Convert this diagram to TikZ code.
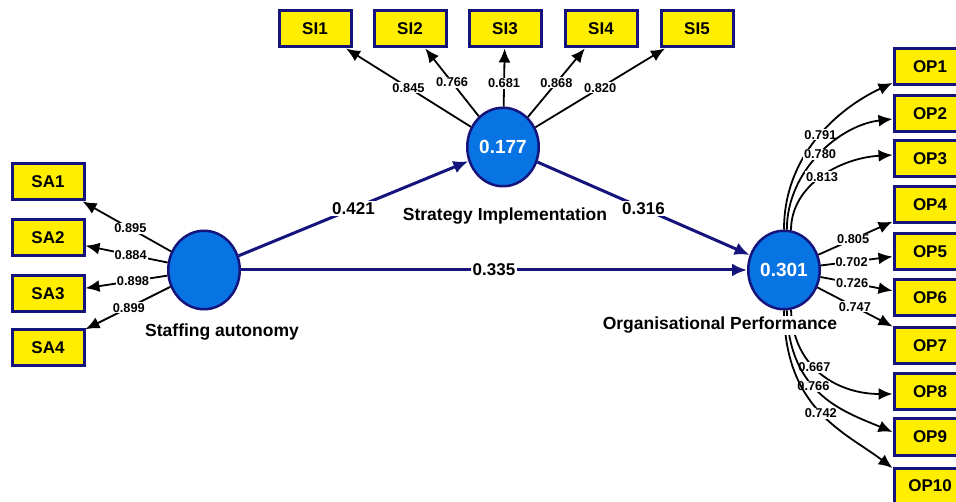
\documentclass[tikz,border=0pt]{standalone}
\usepackage{fontspec}
\setmainfont{Liberation Sans}
\usetikzlibrary{shapes.geometric,arrows.meta}

\definecolor{boxyellow}{RGB}{255,238,0}
\definecolor{navy}{RGB}{20,20,124}
\definecolor{lvblue}{RGB}{8,116,228}

\begin{document}
\begin{tikzpicture}[x=1pt,y=1pt,
  indicator/.style={rectangle, draw=navy, line width=3pt, fill=boxyellow,
    minimum width=72pt, minimum height=36pt, inner sep=0pt,
    font=\fontsize{17}{17}\selectfont\bfseries},
  latent/.style={ellipse, draw=navy, line width=2.5pt, fill=lvblue,
    minimum width=71.5pt, minimum height=78.5pt, inner sep=0pt, text=white,
    font=\fontsize{19}{19}\selectfont\bfseries},
  lvname/.style={anchor=base, inner sep=1pt, font=\fontsize{17.5}{17.5}\selectfont\bfseries},
  pathline/.style={draw=navy, line width=3pt, -{Latex[length=15pt,width=13pt]}},
  loadline/.style={draw=black, line width=1.8pt, -{Latex[length=14pt,width=12pt]}},
  coef/.style={fill=white, inner sep=1.5pt, font=\fontsize{17}{17}\selectfont\bfseries},
  load/.style={fill=white, inner sep=1pt, font=\fontsize{12.8}{12.8}\selectfont\bfseries},
]
\path[use as bounding box] (0,0) rectangle (956,-502);
\clip (0,0) rectangle (956,-502);

% latent variables
\node[latent] (sa) at (204,-270) {};
\node[latent] (si) at (503,-147) {0.177};
\node[latent] (op) at (784,-270) {0.301};

% indicators of Strategy Implementation
\node[indicator] (si1) at (315,-29) {SI1};
\node[indicator] (si2) at (410,-29) {SI2};
\node[indicator] (si3) at (505,-29) {SI3};
\node[indicator] (si4) at (601,-29) {SI4};
\node[indicator] (si5) at (697,-29) {SI5};

% indicators of Staffing autonomy
\node[indicator] (sa1) at (48,-182) {SA1};
\node[indicator] (sa2) at (48,-238) {SA2};
\node[indicator] (sa3) at (48,-294) {SA3};
\node[indicator] (sa4) at (48,-348) {SA4};

% indicators of Organisational Performance
\node[indicator] (op1) at (930,-67) {OP1};
\node[indicator] (op2) at (930,-114) {OP2};
\node[indicator] (op3) at (930,-159) {OP3};
\node[indicator] (op4) at (930,-205) {OP4};
\node[indicator] (op5) at (930,-252) {OP5};
\node[indicator] (op6) at (930,-298) {OP6};
\node[indicator] (op7) at (930,-346) {OP7};
\node[indicator] (op8) at (930,-392) {OP8};
\node[indicator] (op9) at (930,-437) {OP9};
\node[indicator] (op10) at (930,-486) {OP10};

% structural paths
\draw[pathline] (sa) -- node[coef]{0.421} (si);
\draw[pathline] (si) -- node[coef]{0.316} (op);
\draw[pathline] (sa) -- node[coef]{0.335} (op);

% outer loadings: Strategy Implementation
\draw[loadline] (si) -- node[load,pos=.5]{0.845} (si1);
\draw[loadline] (si) -- node[load,pos=.5]{0.766} (si2);
\draw[loadline] (si) -- node[load,pos=.4]{0.681} (si3);
\draw[loadline] (si) -- node[load,pos=.5]{0.868} (si4);
\draw[loadline] (si) -- node[load,pos=.5]{0.820} (si5);

% outer loadings: Staffing autonomy
\draw[loadline] (sa) -- node[load,pos=.46]{0.895} (sa1);
\draw[loadline] (sa) -- node[load,pos=.45]{0.884} (sa2);
\draw[loadline] (sa) -- node[load,pos=.42]{0.898} (sa3);
\draw[loadline] (sa) -- node[load,pos=.49]{0.899} (sa4);

% outer loadings: Organisational Performance
\draw[loadline] (op.90) .. controls (784,-150) and (845,-105) ..
  node[load,pos=.5]{0.791} ([yshift=-16pt]op1.west);
\draw[loadline] (op.86) .. controls (787,-170) and (840,-125) ..
  node[load,pos=.5]{0.780} ([yshift=-5pt]op2.west);
\draw[loadline] (op.80) .. controls (791,-185) and (840,-158) ..
  node[load,pos=.5]{0.813} ([yshift=4pt]op3.west);
\draw[loadline] (op) -- node[load,pos=.47]{0.805} (op4);
\draw[loadline] (op) -- node[load,pos=.43]{0.702} (op5);
\draw[loadline] (op) -- node[load,pos=.44]{0.726} (op6);
\draw[loadline] (op) -- node[load,pos=.5]{0.747} (op7);
\draw[loadline] (op.-80) .. controls (793,-370) and (840,-394) ..
  node[load,pos=.42]{0.667} ([yshift=-2pt]op8.west);
\draw[loadline] (op.-86) .. controls (789,-395) and (845,-412) ..
  node[load,pos=.42]{0.766} ([yshift=5pt]op9.west);
\draw[loadline] (op.-90) .. controls (785,-410) and (845,-432) ..
  node[load,pos=.5]{0.742} ([yshift=18pt]op10.west);

% construct names
\node[lvname] (siname) at (505,-221) {Strategy Implementation};
\node[lvname] (saname) at (222,-337) {Staffing autonomy};
\node[lvname, fill=white] (opname) at (720,-330) {Organisational Performance};
\end{tikzpicture}
\end{document}
